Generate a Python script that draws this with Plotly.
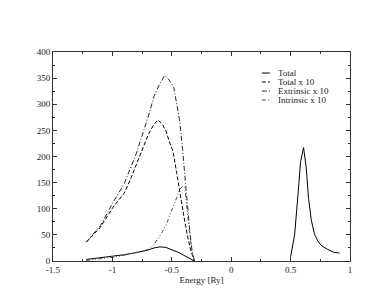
import plotly.graph_objects as go

# Total (solid): valence part and peak part
tot_x_a = [-1.22, -1.1, -1.0, -0.9, -0.8, -0.7, -0.65, -0.6, -0.55, -0.5, -0.45, -0.4, -0.35, -0.31]
tot_y_a = [3, 6, 9, 12, 16, 21, 25, 27, 26, 22, 17, 11, 5, 0]
tot_x_b = [0.50, 0.534, 0.562, 0.584, 0.609, 0.631, 0.651, 0.673, 0.70, 0.73, 0.757, 0.813, 0.86, 0.912]
tot_y_b = [8, 50, 127, 190, 217, 180, 120, 80, 52, 38, 30, 22, 17, 15]

tot10_x = [-1.22, -1.1, -1.0, -0.9, -0.85, -0.8, -0.75, -0.7, -0.65, -0.615, -0.58, -0.548, -0.52,
           -0.49, -0.46, -0.43, -0.40, -0.37, -0.34, -0.31]
tot10_y = [36, 65, 101, 130, 155, 184, 215, 241, 262, 270, 262, 248, 228,
           210, 170, 125, 88, 50, 20, 0]

ext_x = [-1.22, -1.1, -1.0, -0.9, -0.8, -0.7, -0.65, -0.6, -0.56, -0.52, -0.483, -0.453, -0.433,
         -0.41, -0.39, -0.37, -0.35, -0.33, -0.31]
ext_y = [36, 68, 110, 148, 205, 275, 315, 340, 355, 346, 332, 296, 267,
         215, 160, 110, 60, 20, 0]

int_x = [-1.22, -1.1, -1.0, -0.9, -0.8, -0.75, -0.7, -0.65, -0.6, -0.55, -0.5, -0.46, -0.43,
         -0.41, -0.39, -0.37, -0.35, -0.33, -0.31]
int_y = [1, 4, 7, 11, 16, 19, 22, 32, 48, 68, 96, 120, 138,
         143, 140, 95, 50, 15, 0]

legend_names = ["Total", "Total x 10", "Extrinsic x 10", "Intrinsic x 10"]
x_ticks = [-1.5, -1, -0.5, 0, 0.5, 1]
x_tick_text = ["-1.5", "-1", "-0.5", "0", "0.5", "1"]
y_ticks = [0, 50, 100, 150, 200, 250, 300, 350, 400]

FONT = "Liberation Serif"
styles = [
    dict(color="black", width=1, dash="solid"),
    dict(color="black", width=1, dash="4px,2px"),
    dict(color="#222", width=1, dash="5px,2px,1px,2px"),
    dict(color="#555", width=1, dash="4px,2px,1px,2px,1px,2px"),
]

fig = go.Figure()
fig.add_trace(go.Scatter(x=tot_x_a + [None] + tot_x_b, y=tot_y_a + [None] + tot_y_b,
                         mode="lines", line=styles[0], name=legend_names[0], connectgaps=False))
fig.add_trace(go.Scatter(x=tot10_x, y=tot10_y, mode="lines", line=styles[1], name=legend_names[1]))
fig.add_trace(go.Scatter(x=ext_x, y=ext_y, mode="lines", line=styles[2], name=legend_names[2]))
fig.add_trace(go.Scatter(x=int_x, y=int_y, mode="lines", line=styles[3], name=legend_names[3]))

L, R, T, B = 44.7, 342.3, 44.0, 252.7
def px2paper(px, py):
    return (px - L) / (R - L), (B - py) / (B - T)

shapes = []
annotations = []
rows_y = [65, 74, 83, 92]
for i, name in enumerate(legend_names):
    x0, y0 = px2paper(254, rows_y[i])
    x1, _ = px2paper(262, rows_y[i])
    shapes.append(dict(type="line", xref="paper", yref="paper", x0=x0, x1=x1, y0=y0, y1=y0,
                       line=styles[i]))
    tx, ty = px2paper(269, rows_y[i])
    annotations.append(dict(x=tx, y=ty, xref="paper", yref="paper", text=name, showarrow=False,
                            xanchor="left", yanchor="middle", borderpad=0,
                            font=dict(family=FONT, size=9, color="#222")))

fig.update_layout(
    width=385, height=298,
    margin=dict(l=L, r=385 - R, t=T, b=298 - B),
    paper_bgcolor="white", plot_bgcolor="white",
    showlegend=False,
    shapes=shapes, annotations=annotations,
    font=dict(family=FONT, size=9, color="#222"),
)
fig.update_xaxes(range=[-1.5, 1], tickvals=x_ticks, ticktext=x_tick_text, ticks="inside",
                 ticklen=4, tickwidth=1, tickcolor="#333", showline=True, linecolor="#333",
                 linewidth=1, mirror="allticks", showgrid=False, zeroline=False,
                 minor=dict(dtick=0.25, ticks="inside", ticklen=2, tickcolor="#333"),
                 title=dict(text="Energy [Ry]", font=dict(family=FONT, size=9), standoff=2),
                 tickfont=dict(family=FONT, size=9))
fig.update_yaxes(range=[0, 400], tickvals=y_ticks, ticks="inside", ticklen=4, tickwidth=1,
                 tickcolor="#333", showline=True, linecolor="#333", linewidth=1,
                 mirror="allticks", showgrid=False, zeroline=False,
                 minor=dict(dtick=25, ticks="inside", ticklen=2, tickcolor="#333"),
                 tickfont=dict(family=FONT, size=9))

fig.write_html("out.html")
